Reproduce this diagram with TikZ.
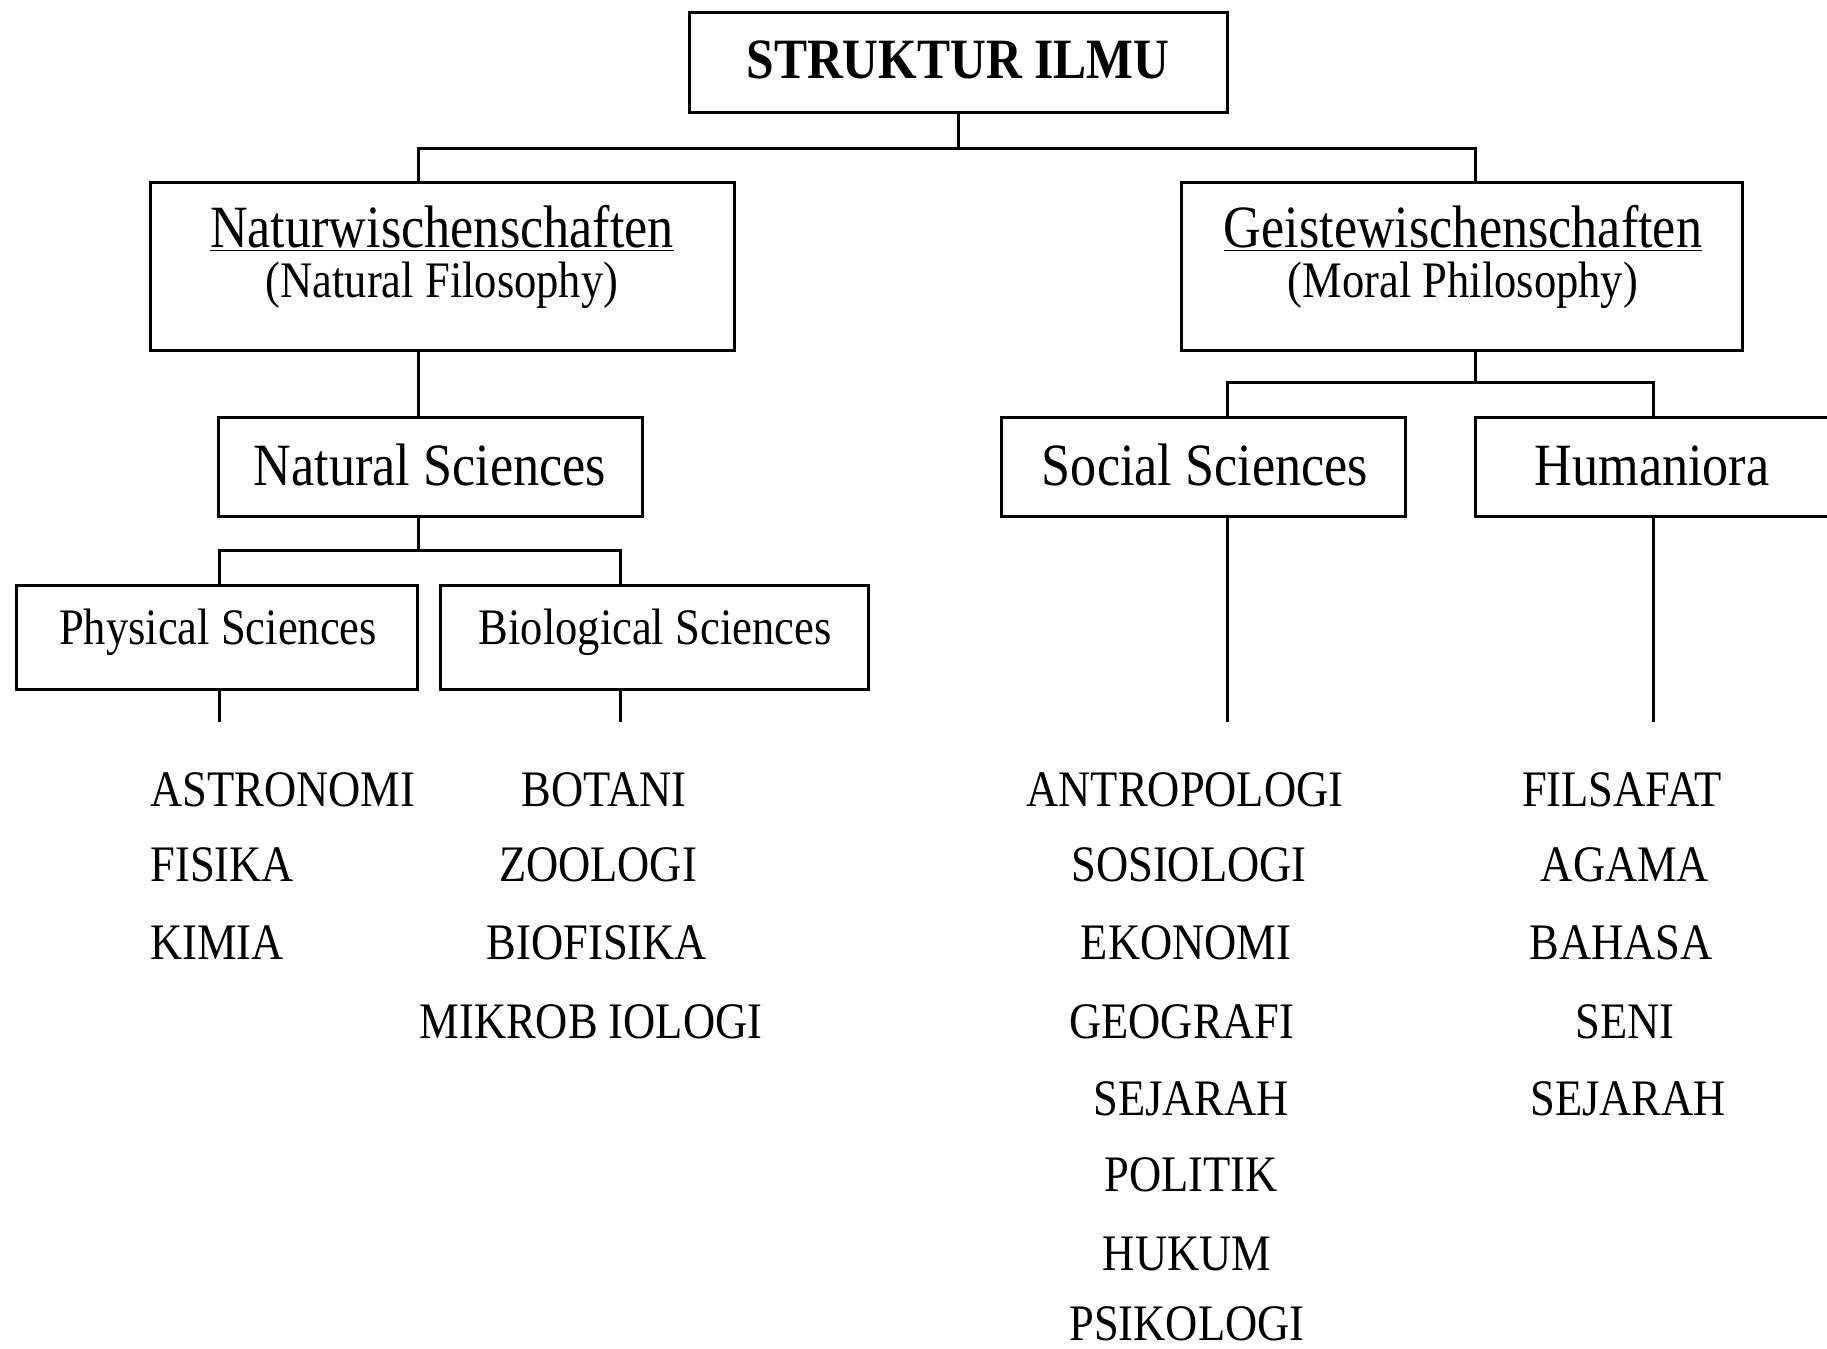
\documentclass[tikz,border=0pt]{standalone}
\usepackage{fontspec}
\setmainfont{Liberation Serif}[FakeStretch=0.87]
\begin{document}
\begin{tikzpicture}[x=0.5pt,y=-0.5pt,
  box/.style={draw=black,line width=1.5pt,rectangle,inner sep=0pt},
  conn/.style={draw=black,line width=1.5pt},
  titletxt/.style={inner sep=0pt,anchor=base,font=\fontsize{28.5}{34}\selectfont\bfseries},
  bigtxt/.style={inner sep=0pt,anchor=base,font=\fontsize{30}{36}\selectfont},
  smalltxt/.style={inner sep=0pt,anchor=base,font=\fontsize{25.6}{31}\selectfont},
  listtxt/.style={inner sep=0pt,anchor=base,font=\fontsize{25.6}{31}\selectfont}]
\clip (0,0) rectangle (1827,1349);
\fill[white] (0,0) rectangle (1827,1349);
% boxes
\node[box,minimum width=269pt,minimum height=50pt] (root) at (958,62) {};
\node[titletxt] (roott) at (958,78) {STRUKTUR ILMU};
\node[box,minimum width=292pt,minimum height=84pt] (natur) at (442,266) {};
\node[bigtxt] (natur1) at (442,247) {\underline{Naturwischenschaften}};
\node[smalltxt] (natur2) at (442,297) {(Natural Filosophy)};
\node[box,minimum width=280.5pt,minimum height=84pt] (geist) at (1461.5,266) {};
\node[bigtxt] (geist1) at (1463,247) {\underline{Geistewischenschaften}};
\node[smalltxt] (geist2) at (1463,297) {(Moral Philosophy)};
\node[box,minimum width=212pt,minimum height=49.5pt] (ns) at (430,466.5) {};
\node[bigtxt] (nst) at (430,485) {Natural Sciences};
\node[box,minimum width=200.5pt,minimum height=52pt] (phys) at (216.5,637) {};
\node[smalltxt] (physt) at (218,644) {Physical Sciences};
\node[box,minimum width=214pt,minimum height=52pt] (bio) at (654,637) {};
\node[smalltxt] (biot) at (655,644) {Biological Sciences};
\node[box,minimum width=202pt,minimum height=49.5pt] (soc) at (1203,466.5) {};
\node[bigtxt] (soct) at (1205,485) {Social Sciences};
\node[box,minimum width=180pt,minimum height=49.5pt] (hum) at (1655,466.5) {};
\node[bigtxt] (humt) at (1652,485) {Humaniora};
% connectors
\coordinate (topbar) at (958,148);
\draw[conn] (root.south) -- (topbar);
\draw[conn] (natur.north -| 418,0) |- (topbar) -| (geist.north -| 1475,0);
\draw[conn] (natur.south -| 418,0) -- (ns.north -| 418,0);
\coordinate (nsbar) at (418,550);
\draw[conn] (ns.south -| 418,0) -- (nsbar);
\draw[conn] (phys.north -| 219,0) |- (nsbar) -| (bio.north -| 620,0);
\coordinate (physend) at (219,722);
\coordinate (bioend) at (620,722);
\draw[conn] (phys.south -| physend) -- (physend);
\draw[conn] (bio.south -| bioend) -- (bioend);
\coordinate (gbar) at (1475,382);
\draw[conn] (geist.south -| gbar) -- (gbar);
\draw[conn] (soc.north -| 1227,0) |- (gbar) -| (hum.north -| 1653,0);
\coordinate (socend) at (1227,722);
\coordinate (humend) at (1653,722);
\draw[conn] (soc.south -| socend) -- (socend);
\draw[conn] (hum.south -| humend) -- (humend);
% lists
\node[listtxt,anchor=base west] (p1) at (150,806) {ASTRONOMI};
\node[listtxt,anchor=base west] (p2) at (150,881) {FISIKA};
\node[listtxt,anchor=base west] (p3) at (150,959) {KIMIA};
\node[listtxt] (b1) at (604,806) {BOTANI};
\node[listtxt] (b2) at (598,881) {ZOOLOGI};
\node[listtxt] (b3) at (597,959) {BIOFISIKA};
\node[listtxt] (b4) at (591,1038) {MIKROB IOLOGI};
\node[listtxt] (s1) at (1185,806) {ANTROPOLOGI};
\node[listtxt] (s2) at (1189,881) {SOSIOLOGI};
\node[listtxt] (s3) at (1186,959) {EKONOMI};
\node[listtxt] (s4) at (1182,1038) {GEOGRAFI};
\node[listtxt] (s5) at (1191,1115) {SEJARAH};
\node[listtxt] (s6) at (1191,1191) {POLITIK};
\node[listtxt] (s7) at (1187,1270) {HUKUM};
\node[listtxt] (s8) at (1187,1340) {PSIKOLOGI};
\node[listtxt] (h1) at (1622,806) {FILSAFAT};
\node[listtxt] (h2) at (1625,881) {AGAMA};
\node[listtxt] (h3) at (1621,959) {BAHASA};
\node[listtxt] (h4) at (1625,1038) {SENI};
\node[listtxt] (h5) at (1628,1115) {SEJARAH};
\end{tikzpicture}
\end{document}
